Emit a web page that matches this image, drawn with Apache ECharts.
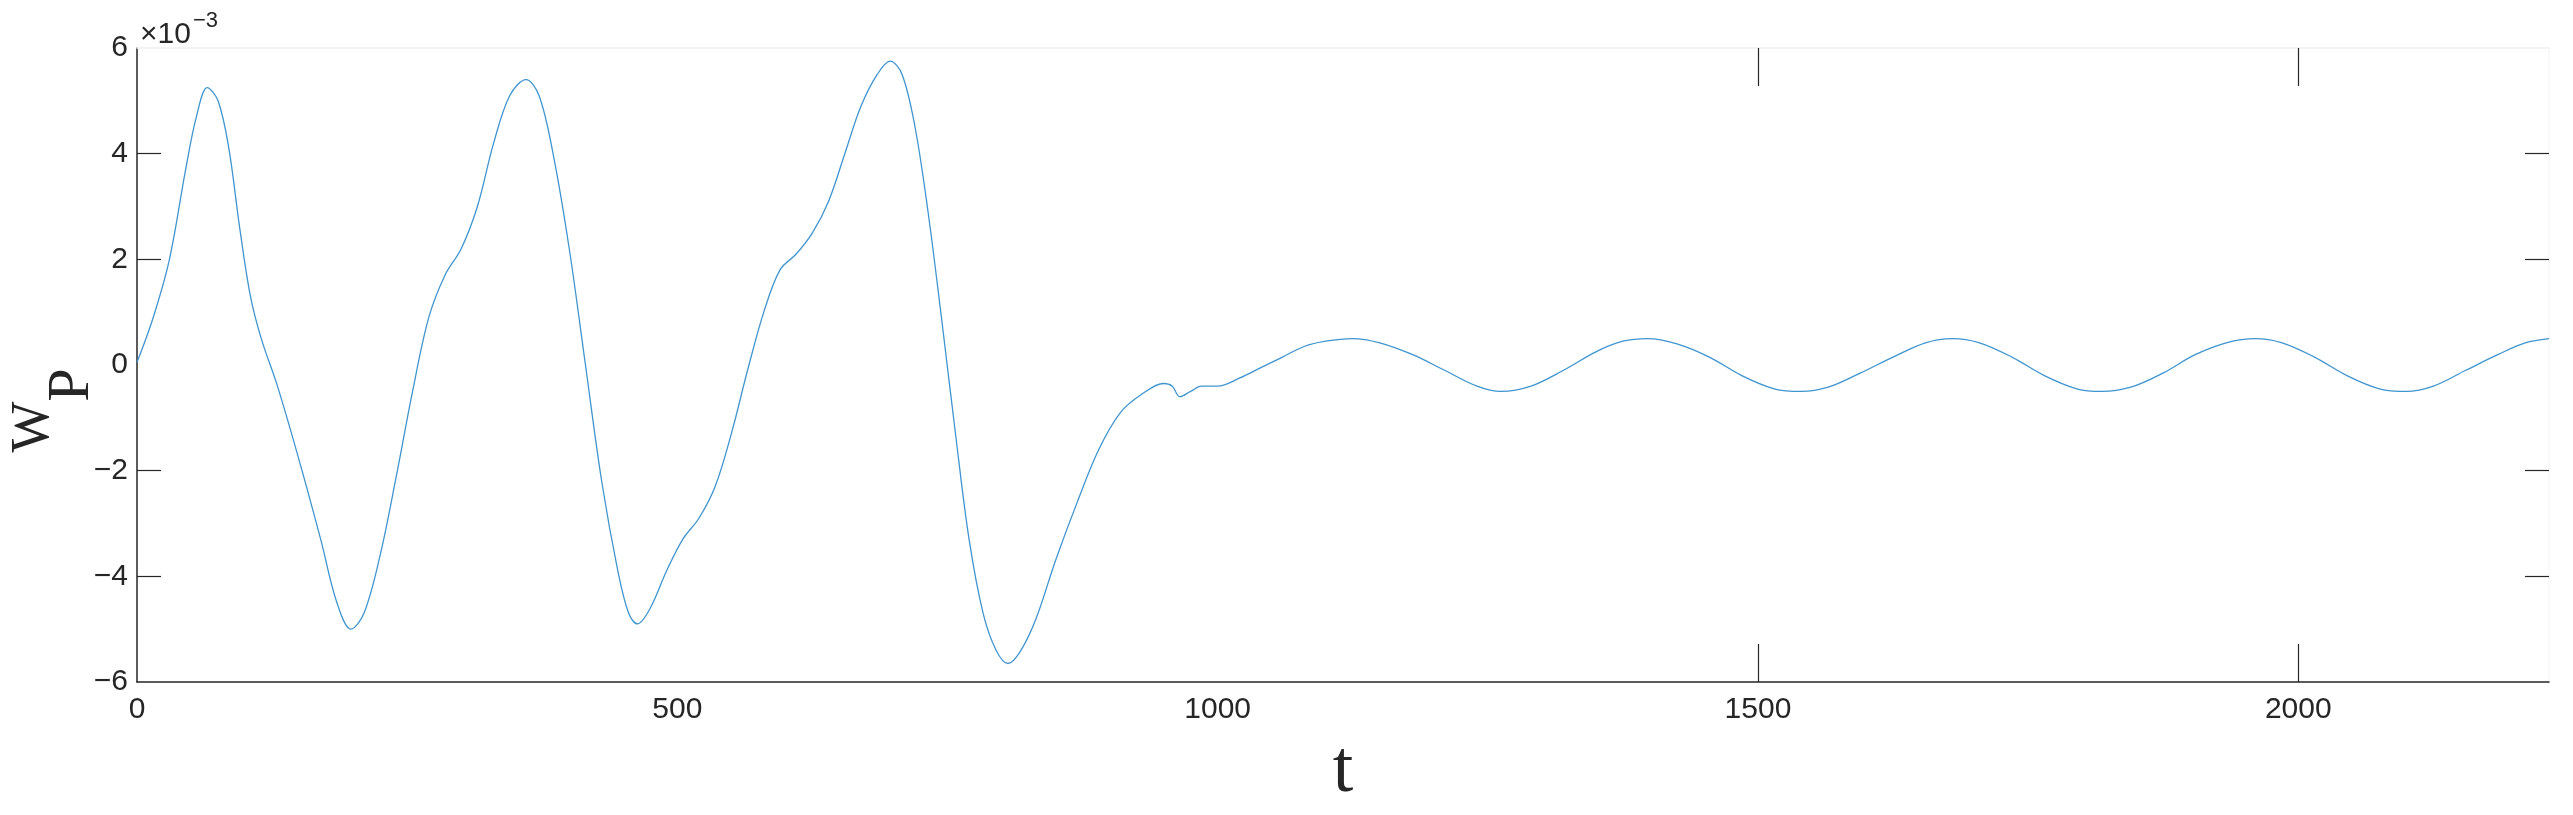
<!DOCTYPE html>
<html>
<head>
<meta charset="utf-8">
<script src="https://cdn.jsdelivr.net/npm/echarts@6/dist/echarts.min.js"></script>
<style>
  html, body { margin: 0; padding: 0; background: #fff; }
  #wp { width: 2573px; height: 815px; }
</style>
</head>
<body>
<div id="wp"></div>
<script>
// time axis t
const tValues = [
  0, 15, 30, 45, 55, 65, 75, 85, 95, 105, 115, 130, 150, 170, 185, 198, 210, 225, 240, 255,
  270, 285, 300, 315, 330, 345, 360, 372, 385, 400, 415, 430, 445, 455, 463, 475, 490, 505, 520, 535,
  550, 565, 580, 595, 610, 625, 640, 655, 670, 685, 697, 708, 720, 732, 745, 758, 770, 783, 795, 806,
  818, 832, 850, 870, 890, 910, 930, 950, 958, 965, 975, 985, 1000, 1020, 1040, 1060, 1080, 1100, 1125,
  1150, 1180, 1210, 1240, 1262, 1290, 1320, 1350, 1375, 1398, 1425, 1455, 1485, 1515, 1540, 1565, 1595,
  1625, 1655, 1680, 1705, 1735, 1765, 1795, 1818, 1845, 1875, 1905, 1935, 1960, 1985, 2015, 2045, 2075,
  2100, 2125, 2155, 2185, 2210, 2232
]
// W_P values (x 10^-3)
const wpValues = [
  0.05, 0.9, 2.0, 3.7, 4.7, 5.25, 5.0, 4.1, 2.6, 1.3, 0.5, -0.4, -1.8, -3.3, -4.5, -5.0, -4.7, -3.6, -2.1, -0.5,
  0.9, 1.7, 2.2, 3.0, 4.2, 5.1, 5.4, 5.1, 4.0, 2.2, 0.0, -2.2, -3.9, -4.7, -4.9, -4.6, -3.9, -3.3, -2.9, -2.3,
  -1.3, -0.1, 1.0, 1.8, 2.1, 2.5, 3.1, 4.0, 4.9, 5.5, 5.75, 5.5, 4.5, 2.9, 0.8, -1.4, -3.3, -4.7, -5.4, -5.65,
  -5.4, -4.8, -3.7, -2.6, -1.6, -0.9, -0.55, -0.35, -0.4, -0.6, -0.5, -0.4, -0.4, -0.25, -0.05, 0.15, 0.35, 0.45, 0.5,
  0.42, 0.2, -0.1, -0.4, -0.5, -0.4, -0.1, 0.25, 0.45, 0.5, 0.4, 0.15, -0.2, -0.45, -0.5, -0.42, -0.15,
  0.15, 0.42, 0.5, 0.42, 0.15, -0.2, -0.45, -0.5, -0.42, -0.15, 0.2, 0.43, 0.5, 0.42, 0.15, -0.2, -0.45,
  -0.5, -0.4, -0.1, 0.2, 0.42, 0.5
]
const xTicks = [0, 500, 1000, 1500, 2000]
const yTicks = [-6, -4, -2, 0, 2, 4, 6]
const tMax = 2232
// 元の図で目盛り線が見えているのはこれだけ
const xTickMarks = [1500, 2000]
const yTickMarks = [-4, -2, 2, 4]

const ink = '#262626'
const sans = '"Liberation Sans", Arial, sans-serif'
const serif = '"Liberation Serif", "Times New Roman", serif'

let myChart = echarts.init(document.getElementById('wp'))

const tickStyle = { color: ink, width: 1.2 }

myChart.setOption({
  animation: false,
  backgroundColor: '#fff',
  grid: { left: 137, right: 24, top: 48, bottom: 133, containLabel: false, outerBoundsMode: 'none' },
  xAxis: [
    {
      type: 'value', position: 'bottom',
      min: xTicks[0], max: tMax, interval: 500,
      name: 't', nameLocation: 'middle', nameGap: 53,
      nameTextStyle: { fontFamily: serif, fontSize: 74, color: ink },
      axisLine: { onZero: false, lineStyle: { color: ink, width: 1.5 } },
      axisTick: { inside: true, length: 38, customValues: xTickMarks, lineStyle: tickStyle },
      axisLabel: {
        fontFamily: sans, fontSize: 30, color: ink, margin: 13, showMaxLabel: false,
        formatter: v => xTicks.includes(v) ? String(v) : ''
      },
      splitLine: { show: false }
    },
    {
      type: 'value', position: 'top',
      min: xTicks[0], max: tMax, interval: 500,
      axisLine: { onZero: false, lineStyle: { color: '#f0f0f0', width: 1.5 } },
      axisTick: { inside: true, length: 38, customValues: xTickMarks, lineStyle: tickStyle },
      axisLabel: { show: false },
      splitLine: { show: false }
    }
  ],
  yAxis: [
    {
      type: 'value', position: 'left',
      min: yTicks[0], max: yTicks[yTicks.length - 1], interval: 2,
      axisLine: { onZero: false, lineStyle: { color: ink, width: 1.5 } },
      axisTick: { inside: true, length: 24, customValues: yTickMarks, lineStyle: tickStyle },
      axisLabel: {
        fontFamily: sans, fontSize: 30, color: ink, margin: 9,
        formatter: v => String(v).replace('-', '\u2212')
      },
      splitLine: { show: false }
    },
    {
      type: 'value', position: 'right',
      min: yTicks[0], max: yTicks[yTicks.length - 1], interval: 2,
      axisLine: { onZero: false, lineStyle: { color: '#f7f7f7', width: 1.5 } },
      axisTick: { inside: true, length: 24, customValues: yTickMarks, lineStyle: tickStyle },
      axisLabel: { show: false },
      splitLine: { show: false }
    }
  ],
  graphic: [
    // 縦軸ラベル W_P (90度回転)
    {
      type: 'text', x: 34, y: 427, rotation: Math.PI / 2,
      style: { text: 'W', font: '54px ' + serif, fill: ink, align: 'center', verticalAlign: 'middle' }
    },
    {
      type: 'text', x: 72, y: 385, rotation: Math.PI / 2,
      style: { text: 'P', font: '60px ' + serif, fill: ink, align: 'center', verticalAlign: 'middle' }
    },
    // 指数表示 ×10^-3
    {
      type: 'text', x: 140, y: 35,
      style: { text: '\u00d710', font: '30px ' + sans, fill: ink, align: 'left', verticalAlign: 'middle' }
    },
    {
      type: 'text', x: 193, y: 21,
      style: { text: '\u22123', font: '22px ' + sans, fill: ink, align: 'left', verticalAlign: 'middle' }
    }
  ],
  series: [
    {
      type: 'line',
      xAxisIndex: 0, yAxisIndex: 0,
      showSymbol: false,
      smooth: 0.35,
      lineStyle: { color: '#3f95cf', width: 1.3 },
      data: tValues.map((t, i) => [t, wpValues[i]])
    }
  ]
})
</script>
</body>
</html>
